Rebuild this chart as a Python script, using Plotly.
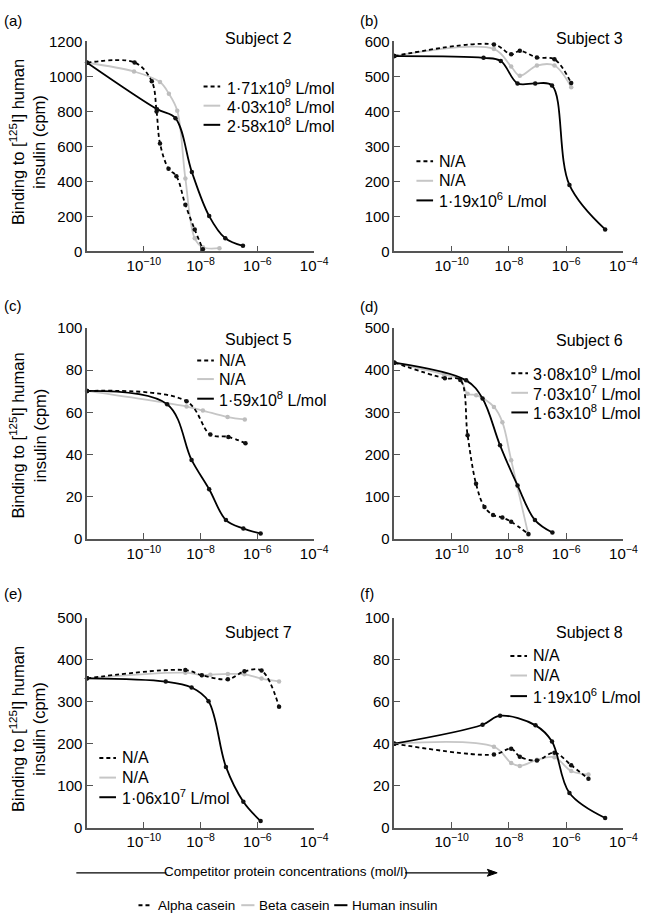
import plotly.graph_objects as go

W, H = 657, 924

# ---------------- data (concentration mol/l, binding cpm) ----------------
# Subject 2
s2_alpha_x = [1e-12, 4.7e-11, 1.9e-10, 2.8e-10, 3.7e-10, 7.4e-10, 1.4e-9, 2.9e-9, 6.2e-9, 1.2e-8]
s2_alpha_y = [1078, 1080, 972, 800, 617, 473, 430, 267, 125, 12]
s2_beta_x = [1e-12, 4.5e-11, 3.7e-10, 7.6e-10, 1.5e-9, 2.9e-9, 6.2e-9, 1.2e-8, 4.6e-8]
s2_beta_y = [1078, 1028, 968, 901, 804, 417, 75, 24, 19]
s2_ins_x = [1e-12, 2.9e-10, 1.3e-9, 4.9e-9, 2.0e-8, 7.4e-8, 3.1e-7]
s2_ins_y = [1078, 813, 761, 454, 202, 75, 32]
# Subject 3
s3_alpha_x = [1e-12, 3.0e-9, 1.2e-8, 2.4e-8, 9.5e-8, 3.9e-7, 1.5e-6]
s3_alpha_y = [558, 591, 563, 573, 554, 549, 481]
s3_beta_x = [1e-12, 3.0e-9, 1.2e-8, 2.4e-8, 9.5e-8, 3.9e-7, 1.5e-6]
s3_beta_y = [558, 578, 528, 502, 531, 531, 469]
s3_ins_x = [1e-12, 1.3e-9, 5.2e-9, 2.0e-8, 8.3e-8, 3.2e-7, 1.3e-6, 2.3e-5]
s3_ins_y = [558, 553, 544, 480, 480, 474, 190, 63]
# Subject 5
s5_alpha_x = [1e-12, 3.2e-9, 2.2e-8, 9.5e-8, 3.8e-7]
s5_alpha_y = [70.2, 65.3, 49.5, 48.4, 45.4]
s5_beta_x = [1e-12, 3.2e-9, 1.2e-8, 8.9e-8, 3.6e-7]
s5_beta_y = [70.2, 62.8, 60.9, 57.8, 56.7]
s5_ins_x = [1e-12, 6.6e-10, 4.8e-9, 2.0e-8, 7.8e-8, 3.2e-7, 1.3e-6]
s5_ins_y = [70.2, 63.9, 37.5, 23.6, 9.0, 5.0, 2.6]
# Subject 6
s6_alpha_x = [1e-12, 5.8e-11, 2.0e-10, 3.6e-10, 7.1e-10, 1.4e-9, 2.8e-9, 5.9e-9, 1.2e-8, 4.8e-8]
s6_alpha_y = [418, 381, 377, 246, 131, 76, 57, 51, 41, 12]
s6_beta_x = [1e-12, 5.4e-11, 2.0e-10, 3.6e-10, 7.2e-10, 3.0e-9, 5.9e-9, 1.2e-8, 4.8e-8]
s6_beta_y = [418, 390, 378, 344, 341, 313, 277, 187, 10]
s6_ins_x = [1e-12, 3.2e-10, 1.2e-9, 4.9e-9, 2.0e-8, 8.1e-8, 3.3e-7]
s6_ins_y = [418, 376, 333, 222, 127, 45, 15.5]
# Subject 7
s7_alpha_x = [1e-12, 2.9e-9, 1.1e-8, 9.1e-8, 3.5e-7, 1.4e-6, 5.8e-6]
s7_alpha_y = [355.5, 375, 363, 353, 372, 374, 288]
s7_beta_x = [1e-12, 2.9e-9, 1.1e-8, 2.2e-8, 9.1e-8, 3.5e-7, 1.4e-6, 5.8e-6]
s7_beta_y = [355.5, 369, 363, 364, 366, 365, 355, 348]
s7_ins_x = [1e-12, 5.9e-10, 4.8e-9, 1.9e-8, 7.8e-8, 3.2e-7, 1.3e-6]
s7_ins_y = [355.5, 347.7, 333.6, 300.8, 144.5, 61.7, 15.6]
# Subject 8
s8_alpha_x = [1e-12, 3.0e-9, 1.2e-8, 2.4e-8, 9.5e-8, 3.9e-7, 1.5e-6, 6.0e-6]
s8_alpha_y = [40, 34.8, 37.6, 33.8, 32.0, 35.7, 29.7, 23.3]
s8_beta_x = [1e-12, 3.0e-9, 1.2e-8, 2.4e-8, 9.5e-8, 3.9e-7, 1.5e-6, 6.0e-6]
s8_beta_y = [40, 38.5, 30.8, 29.4, 32.3, 33.5, 27.0, 25.3]
s8_ins_x = [1e-12, 1.2e-9, 4.9e-9, 8.5e-8, 3.2e-7, 1.3e-6, 2.3e-5]
s8_ins_y = [40, 49.0, 53.3, 48.7, 41.0, 16.5, 4.6]

s2_labels = ['1·71x10<sup>9</sup> L/mol', '4·03x10<sup>8</sup> L/mol', '2·58x10<sup>8</sup> L/mol']
s3_labels = ['N/A', 'N/A', '1·19x10<sup>6</sup> L/mol']
s5_labels = ['N/A', 'N/A', '1·59x10<sup>8</sup> L/mol']
s6_labels = ['3·08x10<sup>9</sup> L/mol', '7·03x10<sup>7</sup> L/mol', '1·63x10<sup>8</sup> L/mol']
s7_labels = ['N/A', 'N/A', '1·06x10<sup>7</sup> L/mol']
s8_labels = ['N/A', 'N/A', '1·19x10<sup>6</sup> L/mol']

series_names = ['Alpha casein', 'Beta casein', 'Human insulin']
x_tick_vals = [1e-10, 1e-8, 1e-6, 1e-4]
x_tick_text = ['10<sup>−10</sup>', '10<sup>−8</sup>', '10<sup>−6</sup>', '10<sup>−4</sup>']

# ---------------- styling / layout ----------------
FONT = 'Liberation Sans, Arial, sans-serif'
GREY = '#c6c6c6'
AX = '#555555'


def px(x):
    return x / W


def py(y):
    return 1 - y / H


panels = [
    dict(tag='(a)', title='Subject 2', labels=s2_labels, ymax=1200, dt=200,
         data=[(s2_alpha_x, s2_alpha_y), (s2_beta_x, s2_beta_y), (s2_ins_x, s2_ins_y)],
         col=0, row=0, leg=(208, 230, [79, 98.5, 118])),
    dict(tag='(b)', title='Subject 3', labels=s3_labels, ymax=600, dt=100,
         data=[(s3_alpha_x, s3_alpha_y), (s3_beta_x, s3_beta_y), (s3_ins_x, s3_ins_y)],
         col=1, row=0, leg=(425.5, 447, [155, 175, 195])),
    dict(tag='(c)', title='Subject 5', labels=s5_labels, ymax=100, dt=20,
         data=[(s5_alpha_x, s5_alpha_y), (s5_beta_x, s5_beta_y), (s5_ins_x, s5_ins_y)],
         col=0, row=1, leg=(201.5, 222, [358, 377, 397])),
    dict(tag='(d)', title='Subject 6', labels=s6_labels, ymax=500, dt=100,
         data=[(s6_alpha_x, s6_alpha_y), (s6_beta_x, s6_beta_y), (s6_ins_x, s6_ins_y)],
         col=1, row=1, leg=(522.5, 543, [371, 391, 411])),
    dict(tag='(e)', title='Subject 7', labels=s7_labels, ymax=500, dt=100,
         data=[(s7_alpha_x, s7_alpha_y), (s7_beta_x, s7_beta_y), (s7_ins_x, s7_ins_y)],
         col=0, row=2, leg=(101.5, 123, [763, 783, 803])),
    dict(tag='(f)', title='Subject 8', labels=s8_labels, ymax=100, dt=20,
         data=[(s8_alpha_x, s8_alpha_y), (s8_beta_x, s8_beta_y), (s8_ins_x, s8_ins_y)],
         col=1, row=2, leg=(521.5, 543, [659, 679, 700])),
]

col_x = [(89, 321), (403, 637)]
row_y = [(33, 247), (325, 540), (620, 834)]
title_pos = {(0, 0): (227.5, 30), (1, 0): (566.5, 30), (0, 1): (228, 337),
             (1, 1): (566.5, 338), (0, 2): (228, 635), (1, 2): (566.5, 635)}
tag_pos = {(0, 0): (2, 12), (1, 0): (366, 12), (0, 1): (2, 302),
           (1, 1): (366, 303), (0, 2): (2, 595), (1, 2): (366, 595)}

styles = [dict(color='black', dash='4px,3px', mcolor='#111111'),
          dict(color=GREY, dash='solid', mcolor='#bdbdbd'),
          dict(color='black', dash='solid', mcolor='#111111')]

fig = go.Figure()
shapes = []
annotations = []
layout = {}

for i, p in enumerate(panels):
    n = '' if i == 0 else str(i + 1)
    xa, ya = 'xaxis' + n, 'yaxis' + n
    x0, x1 = col_x[p['col']]
    yt, yb = row_y[p['row']]
    layout[xa] = dict(domain=[px(x0), px(x1)], anchor='y' + n, type='log', range=[-12, -4],
                      tickvals=x_tick_vals, ticktext=x_tick_text, ticks='inside', ticklen=6,
                      tickwidth=1.3, tickcolor=AX, showline=True, linecolor=AX, linewidth=1.5,
                      showgrid=False, zeroline=False, tickfont=dict(size=15, color='black'))
    layout[ya] = dict(domain=[py(yb), py(yt)], anchor='x' + n, range=[0, p['ymax']], dtick=p['dt'],
                      tick0=0, ticks='inside', ticklen=6, tickwidth=1.3, tickcolor=AX,
                      showline=True, linecolor=AX, linewidth=1.5, showgrid=False, zeroline=False,
                      tickfont=dict(size=15, color='black'))
    for k in [1, 0, 2]:
        xs, ys = p['data'][k]
        st = styles[k]
        fig.add_trace(go.Scatter(
            x=xs, y=ys, mode='lines+markers', name=series_names[k], showlegend=False,
            xaxis='x' + n, yaxis='y' + n, cliponaxis=False,
            line=dict(color=st['color'], width=1.8, dash=st['dash'], shape='spline', smoothing=1),
            marker=dict(color=st['mcolor'], size=4.5)))
    # panel title and tag
    tx, ty = title_pos[(p['col'], p['row'])]
    annotations.append(dict(text=p['title'], x=px(tx), y=py(ty), xref='paper', yref='paper',
                            xanchor='left', yanchor='middle', showarrow=False,
                            font=dict(size=16, color='black')))
    gx, gy = tag_pos[(p['col'], p['row'])]
    annotations.append(dict(text=p['tag'], x=px(gx), y=py(gy), xref='paper', yref='paper',
                            xanchor='left', yanchor='middle', showarrow=False,
                            font=dict(size=15, color='black')))
    # in-panel legend
    sx, txx, lys = p['leg']
    for k in range(3):
        st = styles[k]
        shapes.append(dict(type='line', xref='paper', yref='paper', x0=px(sx), x1=px(sx + 17),
                           y0=py(lys[k]), y1=py(lys[k]),
                           line=dict(color=st['color'], width=2, dash=st['dash'])))
        annotations.append(dict(text=p['labels'][k], x=px(txx), y=py(lys[k]), xref='paper',
                                yref='paper', xanchor='left', yanchor='middle', showarrow=False,
                                font=dict(size=16, color='black')))

# y-axis titles (left column)
for cy in [135, 434, 733]:
    annotations.append(dict(text='Binding to [<sup>125</sup>I] human<br>insulin (cpm)',
                            x=px(28), y=py(cy), xref='paper', yref='paper', textangle=-90,
                            xanchor='center', yanchor='middle', showarrow=False,
                            font=dict(size=16.5, color='black')))

# bottom arrow axis label
annotations.append(dict(text='Competitor protein concentrations (mol/l)', x=px(292), y=py(879),
                        xref='paper', yref='paper', xanchor='center', yanchor='middle',
                        showarrow=False, font=dict(size=13.5, color='black')))
shapes.append(dict(type='line', xref='paper', yref='paper', x0=px(78), x1=px(170),
                   y0=py(880), y1=py(880), line=dict(color='black', width=1.2)))
shapes.append(dict(type='line', xref='paper', yref='paper', x0=px(414), x1=px(502),
                   y0=py(880), y1=py(880), line=dict(color='black', width=1.2)))
shapes.append(dict(type='path', xref='paper', yref='paper',
                   path=f'M {px(508)},{py(880)} L {px(498)},{py(876.5)} L {px(500)},{py(880)} L {px(498)},{py(883.5)} Z',
                   fillcolor='black', line=dict(color='black', width=1)))

# bottom legend
bottom_leg = [(141.5, 159, 'Alpha casein'), (246.5, 263, 'Beta casein'), (341.5, 358, 'Human insulin')]
for k, (sx, txx, name) in enumerate(bottom_leg):
    st = styles[k]
    shapes.append(dict(type='line', xref='paper', yref='paper', x0=px(sx), x1=px(sx + 13.5),
                       y0=py(913), y1=py(913),
                       line=dict(color=st['color'], width=2, dash=st['dash'] if k == 0 else 'solid')))
    annotations.append(dict(text=name, x=px(txx), y=py(913), xref='paper', yref='paper',
                            xanchor='left', yanchor='middle', showarrow=False,
                            font=dict(size=13.5, color='black')))

fig.update_layout(width=W, height=H, margin=dict(l=0, r=0, t=0, b=0),
                  paper_bgcolor='white', plot_bgcolor='white',
                  font=dict(family=FONT, color='black'),
                  shapes=shapes, annotations=annotations, showlegend=False, **layout)

fig.write_html('out.html', config={'displayModeBar': False},
               post_script="document.body.style.margin='0';document.body.style.overflow='hidden';")
